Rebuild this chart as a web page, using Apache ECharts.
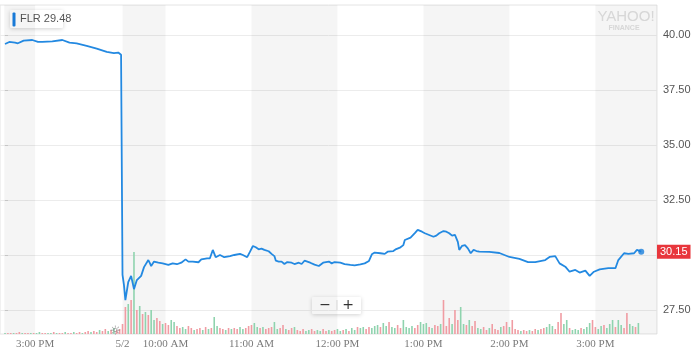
<!DOCTYPE html>
<html>
<head>
<meta charset="utf-8">
<script src="https://cdn.jsdelivr.net/npm/echarts@6.0.0/dist/echarts.min.js"></script>
<style>
html,body{margin:0;padding:0;background:#fff;}
#chart{width:696px;height:353px;}
</style>
</head>
<body>
<div id="chart"></div>
<script>
// ---- DATA ----
const ticker = 'FLR';
const legendValue = 29.48;

// previous session (5/1), afternoon
const prevTimes = ['14:39','14:42','14:46','14:48','14:52','14:58','15:02','15:05','15:12','15:19','15:24','15:29','15:36','15:43','15:50','15:55','15:58','16:00'];
const prevPrices = [39.59,39.68,39.65,39.62,39.74,39.77,39.68,39.68,39.71,39.77,39.65,39.62,39.50,39.38,39.23,39.17,39.20,39.10];

// 5/2 session
const dayTimes = ['09:30','09:31','09:32','09:34','09:36','09:38','09:40','09:43','09:45','09:48','09:49','09:50','09:52','09:55','09:56','09:58',
'10:02','10:05','10:08','10:11','10:14','10:16','10:19','10:23','10:25','10:29','10:31','10:33','10:35','10:38','10:41','10:45','10:48','10:52','10:54','10:57','10:59',
'11:01','11:03','11:05','11:07','11:09','11:12','11:14','11:16','11:17','11:19','11:21','11:23','11:25','11:28','11:30','11:33','11:35','11:37','11:41','11:44','11:47','11:50','11:54','11:56','11:58',
'12:02','12:05','12:09','12:12','12:16','12:19','12:22','12:24','12:26','12:30','12:33','12:35','12:39','12:41','12:44','12:46','12:47','12:51','12:54','12:56','12:59',
'13:01','13:04','13:07','13:09','13:11','13:14','13:16','13:18','13:20','13:22','13:24','13:25','13:27','13:29','13:31','13:33','13:35','13:37','13:39','13:46','13:53',
'14:00','14:07','14:13','14:18','14:25','14:28','14:32','14:35','14:39','14:42','14:46','14:49','14:53','14:56','14:59',
'15:03','15:09','15:14','15:16','15:20','15:23','15:27','15:29','15:32'];
const dayPrices = [29.10,28.64,27.95,28.77,29.05,28.45,28.86,29.05,29.45,29.77,29.64,29.50,29.70,29.65,29.74,29.62,
29.55,29.62,29.58,29.65,29.80,29.70,29.70,29.67,29.80,29.85,29.85,30.23,29.90,30.00,29.90,29.95,30.00,30.05,30.00,29.90,30.15,
30.41,30.35,30.26,30.29,30.23,30.17,30.05,29.95,29.74,29.70,29.70,29.59,29.68,29.65,29.59,29.65,29.59,29.74,29.65,29.56,29.50,29.65,29.70,29.62,29.68,
29.65,29.59,29.55,29.53,29.57,29.62,29.73,30.03,30.11,30.08,30.05,30.15,30.18,30.27,30.35,30.45,30.68,30.79,30.99,31.14,31.06,
30.99,30.91,30.83,30.88,30.99,31.09,31.06,30.99,30.88,30.91,30.60,30.23,30.42,30.45,30.30,30.08,30.23,30.18,30.15,30.14,30.09,
29.91,29.82,29.68,29.68,29.77,29.91,29.95,29.62,29.47,29.24,29.32,29.20,29.29,29.05,29.24,
29.35,29.40,29.40,29.77,30.08,30.05,30.08,30.23,30.15];

// volume (thousands), 2-minute bars
const prevVolStart = '14:39';
const prevVolumes = [1,1,1,1,1,2,1,1,1,1, 1,1,2,1,1,1,1,2,1,1, 1,2,1,1,2,1,2,1,2,3, 2,3,2,4,3,5,3,4,6,4, 5];
const prevVolDir = 'uddudduddu' + 'duudduudud' + 'dudduddudd' + 'udduddudud' + 'd';
const dayVolStart = '09:30';
const dayVolumes = [10,27,30,34,82,24,28,20,22,19, 24,14,16,13,10,11,9,14,12,8, 6,7,5,8,6,4,5,6,4,7, 5,6,17,8,6,5,4,6,5,6,
 5,7,5,6,8,9,11,7,6,7, 5,6,7,12,5,6,9,5,4,6, 7,4,3,5,3,4,5,3,4,3, 5,3,4,3,4,5,3,4,5,3,
 6,4,7,6,7,5,7,6,8,9, 7,11,8,12,7,6,9,6,14,7, 6,8,6,9,12,10,11,7,6,9, 8,10,34,8,16,10,24,14,27,10,
 9,14,8,13,6,5,7,4,6,10, 5,4,7,8,12,7,14,5,4,3, 4,3,4,3,5,4,5,6,7,10, 8,5,12,21,10,14,6,4,5,4,
 6,5,7,11,14,7,5,8,9,6, 10,14,7,14,9,6,21,10,8,7, 11];
const dayVolDir = 'ddudududud'+'uuddudduud'+'duudduddud'+'uduuddudud'+'duuddduudu'+'ddduuddudd'+'uddduudduu'+'ddudduudud'+
 'uuduudduuu'+'duuduudduu'+'uudduuudud'+'dudddudduu'+'dudduuddud'+'dduddudddu'+'dduddudduu'+'uddduuduuu'+'duuudduudu'+'uuduudduud'+'u';

// axis ticks
const xTickTimes = [['prev','15:00'],['day','09:30'],['day','10:00'],['day','11:00'],['day','12:00'],['day','13:00'],['day','14:00'],['day','15:00']];
const xTickLabels = ['3:00 PM','5/2','10:00 AM','11:00 AM','12:00 PM','1:00 PM','2:00 PM','3:00 PM'];
const yGridValues = [27.5,30,32.5,35,37.5,40];
const yLabelValues = [27.5,32.5,35,37.5,40];
const eventTime = ['prev','15:56'];

// ---- time index (trading minutes) ----
function mins(hhmm){const p=hhmm.split(':').map(Number);return p[0]*60+p[1];}
const PREV0 = mins('14:39');
const DAY_OFFSET = (mins('16:00')-PREV0) + 1;
function idx(day,hhmm){return day==='prev' ? mins(hhmm)-PREV0 : DAY_OFFSET + mins(hhmm)-mins('09:30');}

const xMin = -3.5, xMax = 455;
const yMin = 26.41, yMax = 41.36;

const priceData = prevTimes.map((t,i)=>[idx('prev',t),prevPrices[i]])
  .concat(dayTimes.map((t,i)=>[idx('day',t),dayPrices[i]]));
const lastPoint = priceData[priceData.length-1];

const upColor = '#8fd3ae', downColor = '#f09ca3';
const volData = [];
prevVolumes.forEach((v,i)=>volData.push({value:[idx('prev',prevVolStart)+2*i, v], itemStyle:{color: prevVolDir[i]==='u'?upColor:downColor}}));
dayVolumes.forEach((v,i)=>volData.push({value:[idx('day',dayVolStart)+2*i, v], itemStyle:{color: dayVolDir[i]==='u'?upColor:downColor}}));

const xTickIdx = xTickTimes.map(a=>idx(a[0],a[1]));
// alternating hour bands
const bandEdges = [-0.5, xTickIdx[0], xTickIdx[1], xTickIdx[2], xTickIdx[3], xTickIdx[4], xTickIdx[5], xTickIdx[6], xTickIdx[7], xMax];
const bands = [];
for (let i=0;i<bandEdges.length-1;i+=2) bands.push([{xAxis:bandEdges[i]},{xAxis:bandEdges[i+1]}]);

const chart = echarts.init(document.getElementById('chart'), null, {renderer:'canvas'});
chart.setOption({
  animation:false,
  backgroundColor:'#ffffff',
  grid:{left:0,right:39,top:5,bottom:19,show:true,borderColor:'#e4e4e4',borderWidth:1,backgroundColor:'transparent'},
  xAxis:{type:'value',min:xMin,max:xMax,
    axisLine:{show:false},axisTick:{show:false},splitLine:{show:false},
    axisLabel:{customValues:xTickIdx,showMinLabel:true,showMaxLabel:true,
      formatter:function(v){const i=xTickIdx.indexOf(v);return i>=0?xTickLabels[i]:'';},
      color:'#7a7a7a',fontFamily:'Liberation Serif',fontSize:11,margin:5}},
  yAxis:[{type:'value',position:'right',min:yMin,max:yMax,
    axisLine:{show:false},
    axisTick:{show:true,length:3,customValues:yGridValues,lineStyle:{color:'#cfcfcf'}},
    axisLabel:{customValues:yLabelValues,formatter:function(v){return v.toFixed(2);},color:'#555',fontFamily:'Liberation Sans',fontSize:11,margin:6},
    splitLine:{show:true,lineStyle:{color:'#ececec',width:1}}},
   {type:'value',min:0,max:329,show:false,splitLine:{show:false}}],
  series:[
    {type:'bar',yAxisIndex:1,data:volData,barWidth:1.6,z:1,silent:true,
     markArea:{silent:true,itemStyle:{color:'rgba(0,0,0,0.04)'},data:bands},
     markPoint:{silent:true,symbol:'circle',symbolSize:1,itemStyle:{color:'transparent'},
       data:[{coord:[idx(eventTime[0],eventTime[1]),2]}],
       label:{show:true,formatter:'\u263C',position:'inside',color:'#888',fontSize:13,fontFamily:'DejaVu Sans'}}},
    {type:'line',data:priceData,showSymbol:false,z:3,silent:true,
     lineStyle:{color:'#2389e1',width:1.8},
     markLine:{silent:true,symbol:'none',lineStyle:{color:'rgba(0,0,0,0)',width:0},
       data:[{yAxis:lastPoint[1]}],
       label:{show:true,position:'end',distance:0,formatter:function(p){return Number(p.value).toFixed(2);},
         backgroundColor:'#e8363c',color:'#fff',fontFamily:'Liberation Sans',fontSize:11,padding:[2,3,1,3]}}},
    {type:'scatter',data:[lastPoint],symbolSize:6,z:4,silent:true,itemStyle:{color:'#1a7fdc'}}
  ],
  graphic:[
    {type:'group',left:10,top:10,children:[
      {type:'rect',shape:{x:0,y:0,width:53,height:18,r:1},style:{fill:'#fff',shadowBlur:4,shadowColor:'rgba(0,0,0,0.18)',shadowOffsetY:1}},
      {type:'rect',shape:{x:2.5,y:2.5,width:3,height:14,r:1},style:{fill:'#1a7fe0'}},
      {type:'text',x:10,y:9,style:{text:ticker+' '+legendValue.toFixed(2),fill:'#555',font:'11px "Liberation Sans"',verticalAlign:'middle'}}
    ]},
    {type:'group',left:312,top:297,children:[
      {type:'rect',shape:{x:0,y:0,width:49,height:17,r:1},style:{fill:'#fff',shadowBlur:4,shadowColor:'rgba(0,0,0,0.18)',shadowOffsetY:1}},
      {type:'text',x:13,y:8.5,style:{text:'\u2212',fill:'#333',font:'14px "DejaVu Sans"',align:'center',verticalAlign:'middle'}},
      {type:'line',shape:{x1:25,y1:3,x2:25,y2:14},style:{stroke:'#ddd',lineWidth:1}},
      {type:'text',x:36,y:8.5,style:{text:'+',fill:'#333',font:'14px "DejaVu Sans"',align:'center',verticalAlign:'middle'}}
    ]},
    {type:'text',x:626,y:17,style:{text:'YAHOO!',fill:'#e0e0e0',font:'15px "Liberation Sans"',align:'center',verticalAlign:'middle'}},
    {type:'text',x:624,y:28,style:{text:'FINANCE',fill:'#e0e0e0',font:'bold 7px "Liberation Sans"',align:'center',verticalAlign:'middle'}}
  ]
});
</script>
</body>
</html>
